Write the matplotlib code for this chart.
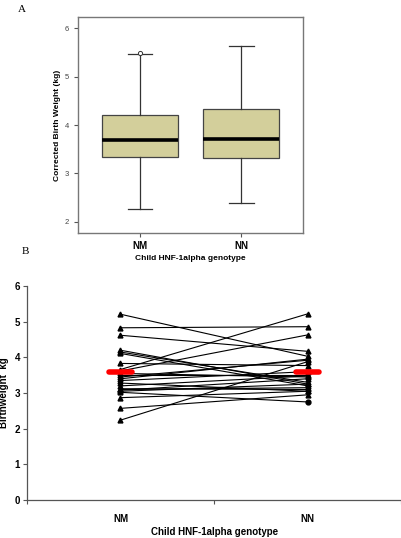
import matplotlib
matplotlib.use("Agg")
import matplotlib.pyplot as plt
import numpy as np

plt.rcParams['font.family'] = ['Liberation Sans', 'DejaVu Sans']

# Panel A: box plot summary values (kg)
genotypes = ["NM", "NN"]
whisker_low = [2.27, 2.38]
q1 = [3.34, 3.31]
medians = [3.70, 3.72]
q3 = [4.20, 4.34]
whisker_high = [5.47, 5.64]
outliers = [[5.50], []]

# Panel B: paired birthweights (kg)
nm_weights = [5.21, 4.83, 4.62, 4.20, 4.15, 4.11, 3.83, 3.66, 3.62, 3.55, 3.50, 3.45,
              3.40, 3.35, 3.28, 3.20, 3.12, 3.10, 3.08, 3.05, 3.02, 2.87, 2.57, 2.24]
nn_weights = [4.03, 4.86, 4.17, 3.25, 3.30, 3.20, 3.77, 5.22, 4.63, 3.45, 3.50, 3.92,
              3.95, 3.60, 3.05, 3.48, 3.10, 3.15, 3.40, 3.25, 2.75, 3.05, 2.95, 3.88]
mean_weights = [3.58, 3.58]

fig = plt.figure(figsize=(4.02, 5.38), dpi=100)

# ---- Panel A ----
ax1 = fig.add_axes([0.194, 0.567, 0.560, 0.401])
stats = []
for i in range(2):
    stats.append(dict(med=medians[i], q1=q1[i], q3=q3[i], whislo=whisker_low[i],
                      whishi=whisker_high[i], fliers=outliers[i]))
ax1.bxp(stats, positions=[1, 2], widths=0.75, patch_artist=True,
        boxprops=dict(facecolor="#d3cf9b", edgecolor="#444444", linewidth=0.9),
        medianprops=dict(color="black", linewidth=2.6),
        whiskerprops=dict(color="#333333", linewidth=0.9),
        capprops=dict(color="#333333", linewidth=0.9),
        capwidths=0.24,
        flierprops=dict(marker="o", markersize=3, markerfacecolor="white",
                        markeredgecolor="#333333", markeredgewidth=0.7))
ax1.set_xlim(0.386, 2.61)
ax1.set_ylim(1.77, 6.23)
ax1.set_yticks([2, 3, 4, 5, 6])
ax1.set_xticks([1, 2])
ax1.set_xticklabels(genotypes, fontsize=7, fontweight="bold")
ax1.tick_params(axis="y", labelsize=5.5, labelcolor="#444444", length=3, color="#555555")
ax1.tick_params(axis="x", length=3, pad=3, color="#555555")
for s in ax1.spines.values():
    s.set_color("#777777")
    s.set_linewidth(1.0)
ax1.set_ylabel("Corrected Birth Weight (kg)", fontsize=6, fontweight="bold", labelpad=3)
ax1.set_xlabel("Child HNF-1alpha genotype", fontsize=6, fontweight="bold", labelpad=3)

fig.text(0.045, 0.990, "A", family="Liberation Serif", fontsize=8, va="top")
fig.text(0.055, 0.528, "B", family="Liberation Serif", fontsize=8)

# ---- Panel B ----
ax2 = fig.add_axes([0.067, 0.0706, 0.931, 0.3977])
for a, b in zip(nm_weights, nn_weights):
    ax2.plot([0.5, 1.5], [a, b], color="black", linewidth=0.8, zorder=2)
ax2.plot([0.5] * len(nm_weights), nm_weights, linestyle="none", marker="^",
         markersize=3.5, color="black", zorder=3)
nn_marks = ["o" if v == min(nn_weights) else "^" for v in nn_weights]
for v, m in zip(nn_weights, nn_marks):
    ax2.plot(1.5, v, marker=m, markersize=3.5, color="black", zorder=3)
ax2.plot([0.44, 0.56], [mean_weights[0]] * 2, color="#ff0000", linewidth=4,
         solid_capstyle="round", zorder=4)
ax2.plot([1.44, 1.56], [mean_weights[1]] * 2, color="#ff0000", linewidth=4,
         solid_capstyle="round", zorder=4)

ax2.set_xlim(0, 2)
ax2.set_ylim(0, 6)
ax2.set_yticks(range(7))
ax2.set_xticks([0, 1, 2])
ax2.set_xticklabels([])
ax2.set_xticks([0.5, 1.5], minor=True)
ax2.set_xticklabels(genotypes, minor=True, fontsize=7, fontweight="bold")
ax2.tick_params(axis="x", which="minor", length=0, pad=10)
ax2.tick_params(axis="x", which="major", length=3, direction="out", color="#555555")
ax2.tick_params(axis="y", labelsize=7, length=3, pad=2, color="#555555")
for t in ax2.get_yticklabels():
    t.set_fontweight("bold")
ax2.spines["top"].set_visible(False)
ax2.spines["right"].set_visible(False)
for s in ("left", "bottom"):
    ax2.spines[s].set_color("#555555")
    ax2.spines[s].set_linewidth(0.9)
ax2.set_ylabel("Birthweight  kg", fontsize=7, fontweight="bold", labelpad=4)
ax2.set_xlabel("Child HNF-1alpha genotype", fontsize=7, fontweight="bold", labelpad=2)

fig.savefig("out.png", dpi=100)
